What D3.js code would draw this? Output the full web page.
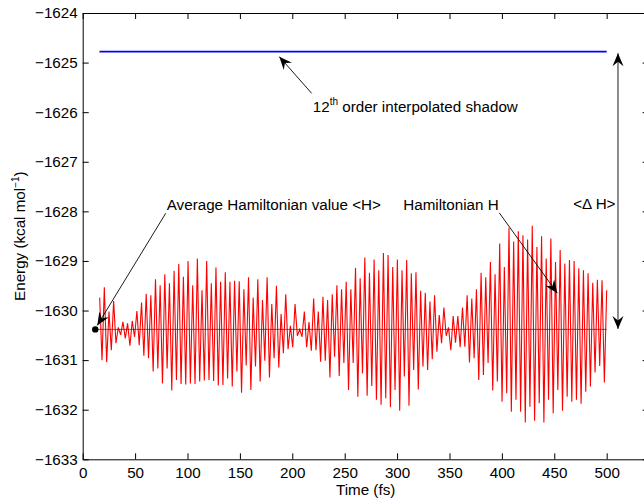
<!DOCTYPE html>
<html>
<head>
<meta charset="utf-8">
<script src="https://cdn.jsdelivr.net/npm/d3@7"></script>
<style>
  html, body { margin: 0; padding: 0; background: #fff; }
  svg { display: block; }
  text { font-family: "Liberation Sans", Arial, Helvetica, sans-serif; }
</style>
</head>
<body>
<svg id="chart" width="644" height="499"></svg>
<script>
// ---------------- DATA ----------------
const xTicks = [0, 50, 100, 150, 200, 250, 300, 350, 400, 450, 500];
const yTicks = [-1633, -1632, -1631, -1630, -1629, -1628, -1627, -1626, -1625, -1624];
const xDomain = [0, 540];
const yDomain = [-1633, -1624];

// Hamiltonian H: successive extremes (peak / trough) sampled uniformly from timeStart to timeEnd (fs)
const timeStart = 16.2;
const timeEnd = 500;
const hamiltonian = [
  -1629.74, -1631.00, -1629.53, -1631.04, -1630.02, -1630.80, -1629.81, -1630.66, -1630.34, -1630.49,
  -1630.23, -1630.56, -1630.26, -1630.71, -1630.21, -1630.53, -1630.01, -1630.70, -1629.84, -1630.91,
  -1629.66, -1630.96, -1629.69, -1631.23, -1629.37, -1631.17, -1629.49, -1631.47, -1629.27, -1631.17,
  -1629.45, -1631.61, -1629.20, -1631.40, -1629.06, -1631.48, -1629.32, -1631.49, -1629.00, -1631.47,
  -1629.49, -1631.48, -1628.95, -1631.43, -1629.59, -1631.41, -1629.00, -1631.40, -1629.45, -1631.42,
  -1629.13, -1631.51, -1629.42,
  -1631.50, -1629.23, -1631.37, -1629.42, -1631.53, -1629.40, -1631.23, -1629.41, -1631.66, -1629.57,
  -1631.11, -1629.33, -1631.60, -1629.74, -1631.13, -1629.37, -1631.43, -1629.79, -1631.01, -1629.33,
  -1631.35, -1629.87, -1630.96, -1629.50, -1631.15, -1630.07, -1630.86, -1629.67, -1630.78, -1630.31,
  -1630.74, -1629.87, -1630.51, -1630.38, -1630.53, -1630.02, -1630.74, -1630.23, -1630.81, -1629.76,
  -1630.80, -1630.02, -1631.03, -1629.72, -1631.01, -1629.79, -1631.35, -1629.67, -1630.93, -1629.49,
  -1631.32, -1629.57, -1631.06, -1629.42, -1631.60,
  -1629.57, -1631.06, -1629.14, -1631.74, -1629.35, -1631.27, -1628.93, -1631.72, -1629.24, -1631.52,
  -1628.97, -1631.80, -1629.19, -1631.90, -1628.84, -1631.77, -1628.88, -1631.95, -1629.12, -1631.60,
  -1628.97, -1632.02, -1629.19, -1631.33, -1628.98, -1631.92, -1629.25, -1631.20, -1629.23, -1631.59,
  -1629.60, -1631.13, -1629.64, -1631.20, -1629.82, -1630.98, -1629.69, -1630.83, -1630.09, -1630.66,
  -1629.94, -1630.51, -1630.34, -1630.80, -1630.11, -1630.65, -1630.11, -1630.74, -1629.94, -1630.73,
  -1629.69, -1631.05, -1629.76, -1630.96, -1629.57, -1631.40,
  -1629.24, -1631.30, -1629.33, -1631.06, -1629.02, -1631.61, -1629.27, -1631.43, -1628.65, -1631.84,
  -1629.12, -1631.67, -1628.33, -1632.04, -1628.61, -1631.80, -1628.40, -1632.04, -1628.48, -1632.26,
  -1628.57, -1631.94, -1628.29, -1632.22, -1628.72, -1631.87, -1628.50, -1632.26, -1628.95, -1631.80,
  -1628.55, -1632.07, -1629.02, -1631.60, -1628.78, -1632.02, -1629.05, -1631.74, -1628.98, -1631.84,
  -1629.00, -1631.80, -1629.15, -1631.88, -1629.19, -1631.64, -1629.25, -1631.53, -1629.44, -1631.25,
  -1629.38, -1631.12, -1629.39, -1631.45, -1629.59
];

// Average Hamiltonian <H>
const averageH = -1630.38;
const averageSpan = [12, 500];
// 12th order interpolated shadow
const shadowH = -1624.78;
const shadowSpan = [16, 500];

// Annotations (data units: time fs, energy kcal/mol)
const annotationTexts = [
  { text: "Average Hamiltonian value <H>", t: 80.2, e: -1627.97 },
  { text: "Hamiltonian H", t: 305.9, e: -1627.97 },
  { text: "<\u0394 H>", t: 468.1, e: -1627.95 }
];
const annotationArrows = [
  { from: [79.2, -1628.04], to: [13.9, -1630.30], both: false },
  { from: [397.5, -1628.03], to: [452.9, -1629.65], both: false },
  { from: [218.5, -1625.62], to: [187.6, -1624.88], both: false },
  { from: [510.8, -1630.37], to: [510.8, -1624.81], both: true }
];
const shadowLabel = { base: "12", sup: "th", rest: " order interpolated shadow", t: 219.5, e: -1625.99 };

// ---------------- CHART ----------------
const svg = d3.select("#chart");
const x = d3.scaleLinear().domain(xDomain).range([82.7, 648.6]);
const y = d3.scaleLinear().domain(yDomain).range([459.3, 13]);

const FS = 15.2;

// data lines
const step = (timeEnd - timeStart) / (hamiltonian.length - 1);
const line = d3.line().x((d, i) => x(timeStart + i * step)).y(d => y(d));
svg.append("path").datum(hamiltonian)
  .attr("d", line).attr("fill", "none").attr("stroke", "#ff0000")
  .attr("stroke-width", 1.1).attr("stroke-linejoin", "miter");

svg.append("line")
  .attr("x1", x(averageSpan[0])).attr("x2", x(averageSpan[1]))
  .attr("y1", y(averageH)).attr("y2", y(averageH))
  .attr("stroke", "#222").attr("stroke-width", 0.7);

svg.append("line")
  .attr("x1", x(shadowSpan[0])).attr("x2", x(shadowSpan[1]))
  .attr("y1", y(shadowH)).attr("y2", y(shadowH))
  .attr("stroke", "#0000ff").attr("stroke-width", 1.8);

svg.append("circle").attr("cx", x(averageSpan[0])).attr("cy", y(averageH))
  .attr("r", 3.2).attr("fill", "#000");

// axes
const fmt = d3.format("d");
const gx = svg.append("g").attr("transform", `translate(0,${y(yDomain[0])})`)
  .call(d3.axisBottom(x).tickValues(xTicks).tickSizeInner(-6).tickSizeOuter(0).tickPadding(7.5).tickFormat(fmt));
const gy = svg.append("g").attr("transform", `translate(${x(xDomain[0])},0)`)
  .call(d3.axisLeft(y).tickValues(yTicks).tickSizeInner(-6).tickSizeOuter(0).tickPadding(5).tickFormat(fmt));
const gt = svg.append("g").attr("transform", `translate(0,${y(yDomain[1])})`)
  .call(d3.axisTop(x).tickValues(xTicks).tickSizeInner(-6).tickSizeOuter(0).tickFormat(""));
const gr = svg.append("g").attr("transform", `translate(${x(xDomain[1])},0)`)
  .call(d3.axisRight(y).tickValues(yTicks).tickSizeInner(-6).tickSizeOuter(0).tickFormat(""));
[gx, gy, gt, gr].forEach(g => {
  g.selectAll("text").attr("font-size", FS).attr("fill", "#000")
    .attr("font-family", "'Liberation Sans', Arial, Helvetica, sans-serif");
  g.selectAll("line").attr("stroke", "#000");
  g.select(".domain").attr("stroke", "#000");
});

// axis titles (centred on the axes box, as in the original)
const xr = x.range(), yr = y.range();
svg.append("text").attr("x", (xr[0] + xr[1]) / 2).attr("y", 495)
  .attr("text-anchor", "middle").attr("font-size", FS).text("Time (fs)");
const yl = svg.append("text")
  .attr("transform", `translate(25,${(yr[0] + yr[1]) / 2}) rotate(-90)`)
  .attr("text-anchor", "middle").attr("font-size", FS);
yl.append("tspan").text("Energy (kcal mol");
yl.append("tspan").attr("dy", -6).attr("font-size", 10).text("\u22121");
yl.append("tspan").attr("dy", 6).text(")");

// annotation text
annotationTexts.forEach(a => {
  svg.append("text").attr("x", x(a.t)).attr("y", y(a.e))
    .attr("font-size", FS).text(a.text);
});
const sl = svg.append("text").attr("x", x(shadowLabel.t)).attr("y", y(shadowLabel.e)).attr("font-size", FS);
sl.append("tspan").text(shadowLabel.base);
sl.append("tspan").attr("dy", -7).attr("font-size", 10).text(shadowLabel.sup);
sl.append("tspan").attr("dy", 7).text(shadowLabel.rest);

// arrows
function head(px, py, ang) {
  const L = 13, W = 5.5, N = 4.5;
  const c = Math.cos(ang), s = Math.sin(ang);
  const pt = (a, b) => [px + a * c - b * s, py + a * s + b * c];
  const pts = [pt(0, 0), pt(-L, W), pt(-L + N, 0), pt(-L, -W)];
  svg.append("polygon").attr("points", pts.map(p => p.join(",")).join(" ")).attr("fill", "#000");
}
annotationArrows.forEach(a => {
  const x1 = x(a.from[0]), y1 = y(a.from[1]), x2 = x(a.to[0]), y2 = y(a.to[1]);
  svg.append("line").attr("x1", x1).attr("y1", y1).attr("x2", x2).attr("y2", y2)
    .attr("stroke", "#000").attr("stroke-width", 0.9);
  head(x2, y2, Math.atan2(y2 - y1, x2 - x1));
  if (a.both) head(x1, y1, Math.atan2(y1 - y2, x1 - x2));
});
</script>
</body>
</html>
